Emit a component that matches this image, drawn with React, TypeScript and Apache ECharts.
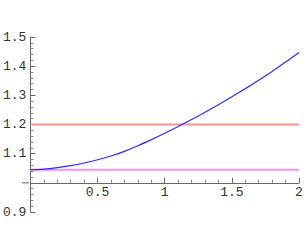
import React, { useEffect, useRef } from "react";
import * as echarts from "echarts";

const xValues = [0, 0.1, 0.2, 0.3, 0.4, 0.5, 0.6, 0.7, 0.8, 0.9, 1.0, 1.1, 1.2, 1.3, 1.4, 1.5, 1.6, 1.7, 1.8, 1.9, 2.0];
const curveValues = [1.045, 1.047, 1.052, 1.059, 1.068, 1.079, 1.092, 1.108, 1.127, 1.148, 1.170, 1.193, 1.217, 1.242, 1.268, 1.295, 1.323, 1.352, 1.382, 1.414, 1.447];
const redLevel = 1.2;
const magentaLevel = 1.045;
const xRange = [0, 2];
const yRange = [0.9, 1.5];

export default function App() {
  const ref = useRef<HTMLDivElement>(null);
  useEffect(() => {
    if (!ref.current) return;
    const chart = echarts.init(ref.current, null, { renderer: "svg" });
    const gridTop = 37;
    const gridBottom = 38;
    const plotH = 250 - gridTop - gridBottom;
    const xAxisOffset = -((1.0 - yRange[0]) / (yRange[1] - yRange[0])) * plotH;
    const font = { fontFamily: "Liberation Mono", fontSize: 13, color: "#333" };
    chart.setOption({
      animation: false,
      backgroundColor: "#fff",
      grid: { left: 29, right: 7, top: gridTop, bottom: gridBottom },
      xAxis: {
        type: "value",
        min: xRange[0],
        max: xRange[1],
        interval: 0.5,
        offset: xAxisOffset,
        axisLine: { onZero: false, lineStyle: { color: "#666", width: 1 } },
        axisTick: { inside: true, length: 5, lineStyle: { color: "#666" } },
        minorTick: { show: true, splitNumber: 5, length: 3, lineStyle: { color: "#888" } },
        splitLine: { show: false },
        axisLabel: {
          ...font,
          margin: 3,
          formatter: (v: number) => (v === 0 ? "" : String(v)),
        },
      },
      yAxis: {
        type: "value",
        min: yRange[0],
        max: yRange[1],
        interval: 0.1,
        axisLine: { show: true, onZero: false, lineStyle: { color: "#666", width: 1 } },
        axisTick: { show: true, inside: true, length: 5, lineStyle: { color: "#666" } },
        minorTick: { show: true, splitNumber: 5, length: 3, lineStyle: { color: "#888" } },
        splitLine: { show: false },
        axisLabel: {
          ...font,
          margin: 4,
          formatter: (v: number) => (Math.abs(v - 1) < 1e-9 ? "" : String(Math.round(v * 10) / 10)),
        },
      },
      graphic: [
        {
          type: "line",
          shape: { x1: 22, y1: 250 - gridBottom + xAxisOffset, x2: 29, y2: 250 - gridBottom + xAxisOffset },
          style: { stroke: "#666", lineWidth: 1 },
        },
      ],
      series: [
        {
          type: "line",
          data: [[xRange[0], redLevel], [xRange[1], redLevel]],
          showSymbol: false,
          lineStyle: { color: "#ff9090", width: 2 },
          z: 2,
        },
        {
          type: "line",
          data: [[xRange[0], magentaLevel], [xRange[1], magentaLevel]],
          showSymbol: false,
          lineStyle: { color: "#f590f5", width: 2 },
          z: 2,
        },
        {
          type: "line",
          data: xValues.map((x, i) => [x, curveValues[i]]),
          showSymbol: false,
          smooth: 0.3,
          lineStyle: { color: "#2a2aff", width: 1.2 },
          z: 3,
        },
      ],
    });
    return () => chart.dispose();
  }, []);
  return (
    <div
      ref={ref}
      style={{ position: "absolute", left: 0, top: 0, width: 306, height: 250, background: "#fff" }}
    />
  );
}
